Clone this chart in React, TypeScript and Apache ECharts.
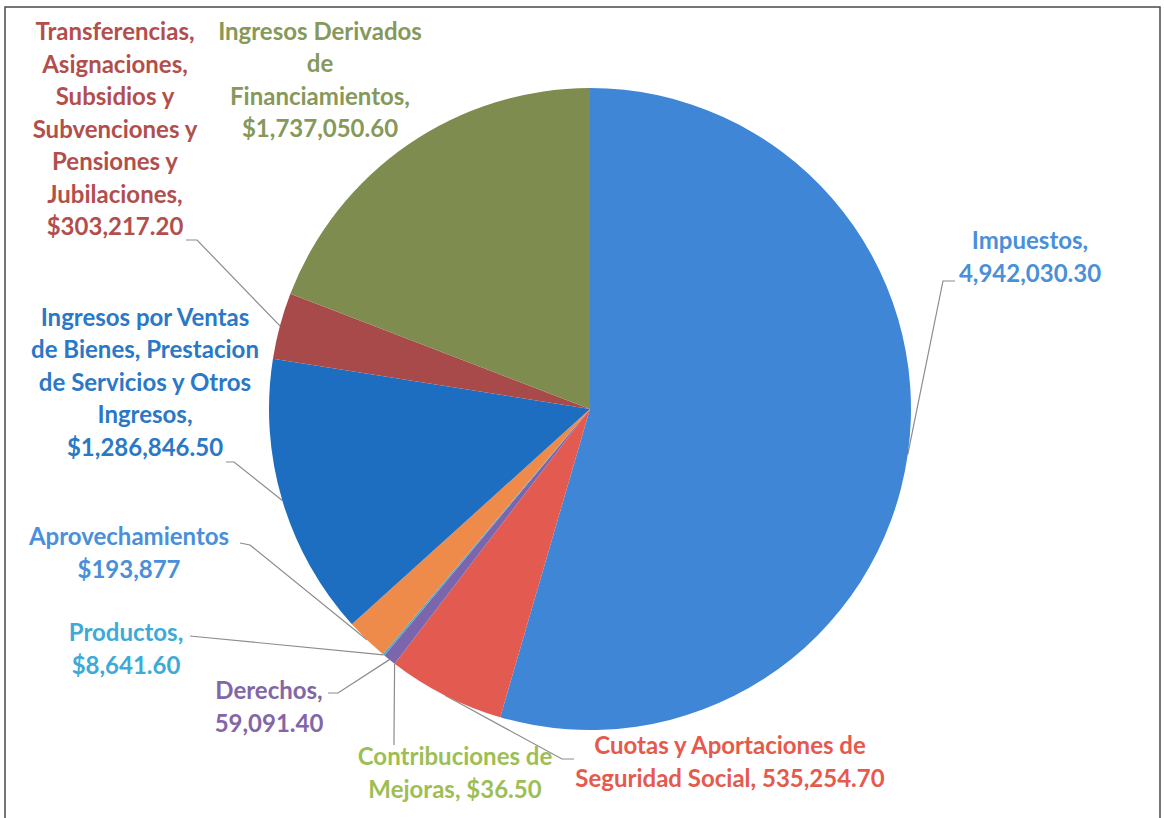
import { useEffect, useRef } from "react";
import * as echarts from "echarts";

// ---- data ----
const categories = [
  "Impuestos",
  "Cuotas y Aportaciones de Seguridad Social",
  "Contribuciones de Mejoras",
  "Derechos",
  "Productos",
  "Aprovechamientos",
  "Ingresos por Ventas de Bienes, Prestacion de Servicios y Otros Ingresos",
  "Transferencias, Asignaciones, Subsidios y Subvenciones y Pensiones y Jubilaciones",
  "Ingresos Derivados de Financiamientos",
];
const values = [4942030.3, 535254.7, 36.5, 59091.4, 8641.6, 193877, 1286846.5, 303217.2, 1737050.6];
const labelNames = [
  "Impuestos,",
  "Cuotas y Aportaciones de\nSeguridad Social,",
  "Contribuciones de\nMejoras,",
  "Derechos,",
  "Productos,",
  "Aprovechamientos",
  "Ingresos por Ventas\nde Bienes, Prestacion\nde Servicios y Otros\nIngresos,",
  "Transferencias,\nAsignaciones,\nSubsidios y\nSubvenciones y\nPensiones y\nJubilaciones,",
  "Ingresos Derivados\nde\nFinanciamientos,",
];
const valueJoin = ["\n", " ", " ", "\n", "\n", "\n", "\n", "\n", "\n"];
const valueCurrency = [false, false, true, false, true, true, true, true, true];
const valueDecimals = [2, 2, 2, 2, 2, 0, 2, 2, 2];

// ---- styles / layout ----
const sliceColors = ["#3F86D7", "#E35A50", "#9BBB59", "#7B66AE", "#4BACC6", "#EE8A4A", "#1D6EC1", "#A84A49", "#7E8C50"];
const labelColors = ["#4A8FDA", "#E55A4C", "#9DBE55", "#8266A8", "#3EAAD8", "#4A8FDA", "#2A78C6", "#B24F4C", "#86985A"];
const labelCenters: number[][] = [
  [1030, 256], [730, 761], [455, 772], [269, 706], [126, 648], [129, 552], [145, 381], [115, 128], [320, 79],
];
const lineElbows: (number[] | null)[] = [
  [943, 281], [562, 759], [394, 738], [338, 693], [200, 637], [250, 545], [234, 462], [197, 240], null,
];
const lineEnds: (number[] | null)[] = [
  [955, 281], [574, 759], [394, 745], [328, 693], [190, 636], [240, 543], [226, 462], [186, 240], null,
];

function fmt(i: number) {
  const v = values[i].toLocaleString("en-US", {
    minimumFractionDigits: valueDecimals[i],
    maximumFractionDigits: valueDecimals[i],
  });
  return labelNames[i] + valueJoin[i] + (valueCurrency[i] ? "$" : "") + v;
}

export default function App() {
  const ref = useRef<HTMLDivElement>(null);
  useEffect(() => {
    if (!ref.current) return;
    const chart = echarts.init(ref.current, null, { renderer: "svg" });
    chart.setOption({
      animation: false,
      backgroundColor: "#ffffff",
      graphic: [
        {
          type: "rect",
          shape: { x: 5, y: 7, width: 1155, height: 840 },
          style: { fill: "none", stroke: "#4a4a4a", lineWidth: 1.5 },
          silent: true,
        },
      ],
      series: [
        {
          type: "pie",
          center: [590, 409],
          radius: 321,
          startAngle: 90,
          clockwise: true,
          avoidLabelOverlap: false,
          itemStyle: { borderWidth: 0 },
          label: {
            show: true,
            position: "outside",
            fontFamily: "Lato",
            fontWeight: "bold",
            fontSize: 24,
            lineHeight: 32.5,
            align: "center",
            formatter: (p: any) => fmt(p.dataIndex),
          },
          labelLine: {
            show: true,
            lineStyle: { color: "#8c8c8c", width: 1.2 },
          },
          labelLayout: (params: any) => {
            const i = params.dataIndex;
            const c = labelCenters[i];
            const out: any = { x: c[0], y: c[1], align: "center", verticalAlign: "middle" };
            const pts = params.labelLinePoints;
            if (lineEnds[i] && pts && pts[0]) {
              out.labelLinePoints = [[pts[0][0], pts[0][1]], lineElbows[i], lineEnds[i]];
            }
            return out;
          },
          data: categories.map((name, i) => ({
            name,
            value: values[i],
            itemStyle: { color: sliceColors[i] },
            label: { color: labelColors[i] },
            labelLine: { show: lineEnds[i] != null },
          })),
        },
      ],
    });
    return () => chart.dispose();
  }, []);
  return (
    <div
      ref={ref}
      style={{ position: "fixed", left: 0, top: 0, width: 1164, height: 818 }}
    />
  );
}
